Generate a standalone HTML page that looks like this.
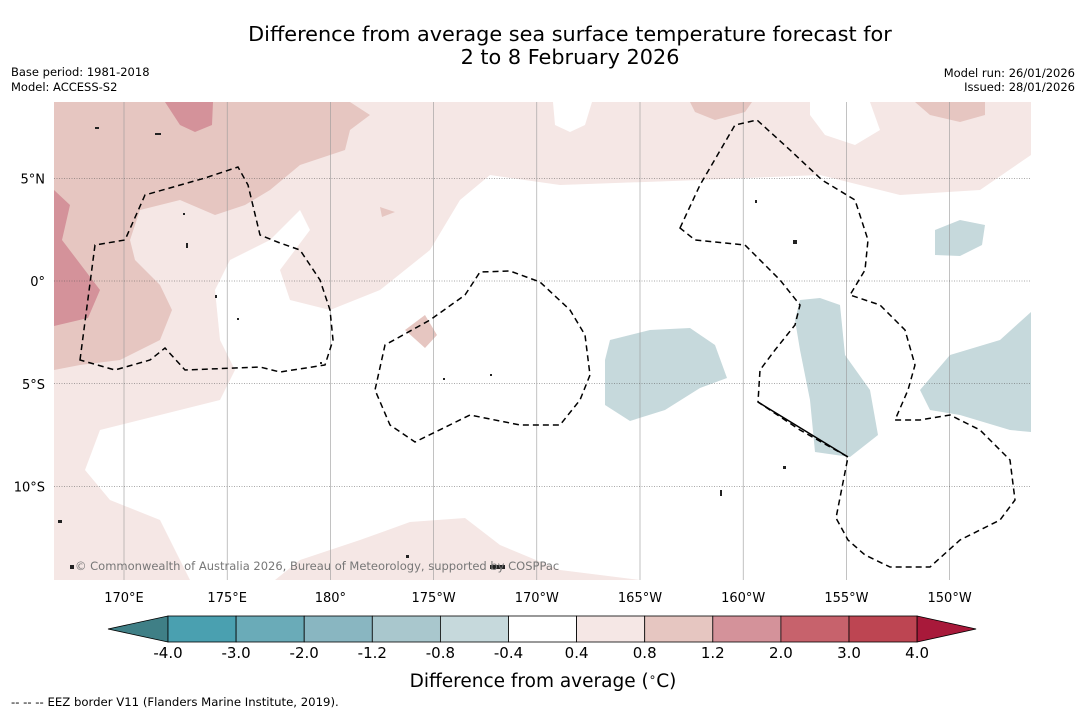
<!DOCTYPE html>
<html><head><meta charset="utf-8"><style>
body{margin:0;background:#fff;font-family:"DejaVu Sans","Liberation Sans",sans-serif;}
#wrap{position:relative;width:1085px;height:713px;overflow:hidden;background:#fff}
</style></head><body>
<div id="wrap">
<svg id="svg" width="1085" height="713" xmlns="http://www.w3.org/2000/svg" font-family="DejaVu Sans, Liberation Sans, sans-serif">
<text x="570" y="41" font-size="20.8" text-anchor="middle">Difference from average sea surface temperature forecast for</text>
<text x="570" y="64" font-size="20.8" text-anchor="middle">2 to 8 February 2026</text>
<text x="11" y="76" font-size="11.5">Base period: 1981-2018</text>
<text x="11" y="91" font-size="11.5">Model: ACCESS-S2</text>
<text x="1075" y="77" font-size="11.5" text-anchor="end">Model run: 26/01/2026</text>
<text x="1075" y="91" font-size="11.5" text-anchor="end">Issued: 28/01/2026</text>
<defs><clipPath id="mc"><rect x="54" y="102" width="977" height="478"/></clipPath></defs>
<g clip-path="url(#mc)">
<rect x="54" y="102" width="977" height="478" fill="#f5e7e5"/>
<path fill="#fff" d="M190,580 L160,520 L110,500 L85,470 L100,430 L180,410 L220,400 L235,370 L220,340 L215,290 L230,260 L270,240 L300,210 L310,230 L280,270 L290,300 L330,310 L380,290 L430,250 L460,200 L490,175 L560,185 L700,180 L820,175 L900,195 L980,190 L1031,155 L1031,580 L640,580 L560,570 L500,545 L465,518 L410,522 L360,540 L300,560 L275,580 Z"/>
<path fill="#fff" d="M553,102 L592,102 L585,125 L570,132 L555,125 Z M810,102 L870,102 L880,130 L855,145 L825,135 L810,115 Z M290,102 L340,102 L335,110 L310,112 Z M648,229 L675,229 L675,234 L648,234 Z"/>
<path fill="#e6c6c1" d="M54,102 L350,102 L370,115 L350,130 L345,150 L300,165 L270,190 L245,205 L215,215 L180,200 L140,210 L130,240 L135,260 L160,285 L172,310 L160,340 L120,360 L80,365 L54,370 Z M690,102 L752,102 L745,112 L715,120 L695,112 Z M915,102 L985,102 L985,115 L960,122 L930,115 Z M380,207 L395,212 L382,217 Z M405,330 L425,315 L437,335 L425,348 Z"/>
<path fill="#d4929a" d="M165,102 L213,102 L212,125 L195,132 L180,125 Z M54,190 L70,205 L62,240 L100,290 L88,318 L54,326 Z"/>
<path fill="#c6d9dc" d="M610,340 L650,330 L690,328 L715,345 L727,378 L700,388 L665,410 L630,421 L605,405 L605,360 Z M800,300 L820,298 L840,305 L845,355 L870,390 L878,435 L850,457 L815,452 L810,400 L800,350 L795,320 Z M920,390 L950,355 L1000,340 L1031,312 L1031,432 L1010,430 L960,415 L930,410 Z M935,230 L960,220 L985,225 L982,245 L960,256 L935,255 Z"/>
<g id="grid"></g>
<path fill="none" stroke="#000" stroke-width="1.5" stroke-dasharray="6,4" d="M80,360 L95,245 L125,240 L145,195 L205,178 L238,167 L248,185 L260,235 L280,243 L300,250 L320,280 L330,310 L333,340 L325,365 L280,372 L260,367 L185,370 L165,348 L150,360 L115,370 Z"/>
<path fill="none" stroke="#000" stroke-width="1.5" stroke-dasharray="6,4" d="M465,295 L480,272 L510,271 L540,282 L570,310 L585,335 L590,375 L580,400 L560,425 L520,425 L470,415 L415,442 L390,425 L375,390 L385,345 L430,320 Z"/>
<path fill="none" stroke="#000" stroke-width="1.5" stroke-dasharray="6,4" d="M680,228 L700,185 L735,125 L757,120 L790,150 L822,180 L855,200 L868,240 L865,270 L850,295 L880,305 L905,330 L915,365 L908,390 L895,420 L920,420 L950,415 L980,430 L1010,460 L1015,500 L1000,520 L960,540 L930,567 L890,567 L865,555 L848,540 L836,518 L848,457 L800,430 L758,402 L760,370 L775,350 L795,325 L800,305 L780,280 L745,245 L695,240 Z"/>
<path stroke="#000" stroke-width="1.5" fill="none" d="M758,402 L848,457"/>
<g fill="#222">
<rect x="183" y="213" width="2" height="2"/><rect x="186" y="243" width="2" height="5"/><rect x="215" y="295" width="2" height="3"/><rect x="237" y="318" width="2" height="2"/><rect x="320" y="362" width="2" height="2"/><rect x="443" y="378" width="2" height="2"/><rect x="490" y="374" width="2" height="2"/><rect x="793" y="240" width="4" height="4"/><rect x="755" y="200" width="2" height="3"/><rect x="720" y="490" width="2" height="6"/><rect x="58" y="520" width="4" height="3"/><rect x="406" y="555" width="3" height="3"/><rect x="490" y="565" width="15" height="4"/><rect x="783" y="466" width="3" height="3"/><rect x="155" y="133" width="6" height="2"/><rect x="95" y="127" width="4" height="2"/><rect x="70" y="565" width="4" height="4"/>
</g>
<text x="75" y="570" font-size="11.5" fill="#777">© Commonwealth of Australia 2026, Bureau of Meteorology, supported by COSPPac</text>
</g>
<g id="axes"></g>
<g id="cbar"></g>
<text x="543" y="687" font-size="18.5" text-anchor="middle">Difference from average (<tspan font-size="12" dy="-6">∘</tspan><tspan dy="6">C)</tspan></text>
<text x="11" y="706" font-size="11.7">--  --  -- EEZ border V11 (Flanders Marine Institute, 2019).</text>
</svg>
</div>
<script>
const lonLabels=["170°E","175°E","180°","175°W","170°W","165°W","160°W","155°W","150°W"];
const lonValues=[170,175,180,185,190,195,200,205,210];
const latLabels=["5°N","0°","5°S","10°S"];
const latValues=[5,0,-5,-10];
const cbTicks=["-4.0","-3.0","-2.0","-1.2","-0.8","-0.4","0.4","0.8","1.2","2.0","3.0","4.0"];
const cbColors=["#4aa0b0","#6aabb8","#89b6c1","#a9c7cd","#c6d9dc","#ffffff","#f5e7e5","#e6c6c1","#d4929a","#c7626c","#bd4552"];
const cbLow="#3f7f86", cbHigh="#a8193a";
const NS="http://www.w3.org/2000/svg";
const xLon=v=>124+(v-170)*20.64, yLat=v=>281-v*20.55;
function mk(t,a,p){const e=document.createElementNS(NS,t);for(const k in a)e.setAttribute(k,a[k]);p.appendChild(e);return e;}
const grid=document.getElementById('grid'),axes=document.getElementById('axes'),cb=document.getElementById('cbar');
lonValues.forEach((v,i)=>{
 const l=mk('line',{x1:xLon(v),x2:xLon(v),y1:102,y2:580,stroke:'#999','stroke-width':0.6},grid);
 
 
 const t=mk('text',{x:xLon(v),y:602,'font-size':13,'text-anchor':'middle'},axes);t.textContent=lonLabels[i];
 
 
});
latValues.forEach((v,i)=>{
 const l=mk('line',{x1:54,x2:1031,y1:yLat(v),y2:yLat(v),stroke:'#555','stroke-width':0.6,'stroke-dasharray':'1,1.5'},grid);
 
 
 const t=mk('text',{x:45,y:yLat(v)+5,'font-size':13,'text-anchor':'end'},axes);t.textContent=latLabels[i];
 
 
});
const cx0=168,cw=68.1,cy=616,ch=26;
const lt=mk('polygon',{points:`108,${cy+ch/2} ${cx0},${cy} ${cx0},${cy+ch}`,fill:cbLow,stroke:'#000','stroke-width':0.8},cb);


cbColors.forEach((c,i)=>{
 const r=mk('rect',{x:cx0+i*cw,y:cy,width:cw,height:ch,fill:c,stroke:'#000','stroke-width':0.8},cb);
 
 
});
const xe=cx0+cbColors.length*cw;
const rt=mk('polygon',{points:`${xe},${cy} ${xe+59},${cy+ch/2} ${xe},${cy+ch}`,fill:cbHigh,stroke:'#000','stroke-width':0.8},cb);


cbTicks.forEach((s,i)=>{
 const t=mk('text',{x:cx0+i*cw,y:658,'font-size':15,'text-anchor':'middle'},cb);t.textContent=s;
 
 
});
</script>
</body></html>
